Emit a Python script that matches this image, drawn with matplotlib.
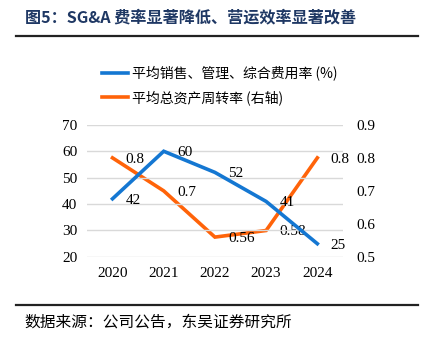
import matplotlib.pyplot as plt
from matplotlib.lines import Line2D

plt.rcParams['font.family'] = ['Liberation Serif', 'Noto Sans CJK SC']

years = ["2020", "2021", "2022", "2023", "2024"]
sga_rate = [42, 60, 52, 41, 25]
turnover = [0.8, 0.7, 0.56, 0.58, 0.8]
sga_labels = ["42", "60", "52", "41", "25"]
turn_labels = ["0.8", "0.7", "0.56", "0.58", "0.8"]

blue = "#1477D2"
orange = "#FF6309"
cjk = ['Noto Sans CJK SC', 'Liberation Serif']

fig = plt.figure(figsize=(4.26, 3.43), dpi=100)
ax = fig.add_axes([0.204, 0.251, 0.601, 0.385])
ax2 = ax.twinx()

x = range(len(years))
l1, = ax.plot(x, sga_rate, color=blue, lw=2.6, solid_joinstyle='miter')
l2, = ax2.plot(x, turnover, color=orange, lw=2.6, solid_joinstyle='miter')

ax.set_ylim(20, 70)
ax.set_yticks([20, 30, 40, 50, 60, 70])
ax2.set_ylim(0.5, 0.9)
ax2.set_yticks([0.5, 0.6, 0.7, 0.8, 0.9])
ax.set_xlim(-0.5, 4.5)
ax.set_xticks(list(x))
ax.set_xticklabels(years)
ax.grid(axis='y', color='#D9D9D9', lw=1)
ax.set_axisbelow(True)
for a in (ax, ax2):
    for s in a.spines.values():
        s.set_visible(False)
    a.tick_params(length=0, labelsize=11)
ax.tick_params(axis='y', pad=7)
ax.tick_params(axis='x', pad=7)
ax2.tick_params(axis='y', pad=10)
ax.set_zorder(ax2.get_zorder() + 1)
ax.patch.set_visible(False)

# data labels, to the right of each point
for i, (v, t) in enumerate(zip(sga_rate, sga_labels)):
    ax.annotate(t, (i, v), xytext=(9.5, -1), textcoords='offset points',
                ha='left', va='center', fontsize=11)
for i, (v, t) in enumerate(zip(turnover, turn_labels)):
    ax2.annotate(t, (i, v), xytext=(9.5, -1), textcoords='offset points',
                 ha='left', va='center', fontsize=11)

fig.legend([l1, l2], ["平均销售、管理、综合费用率 (%)", "平均总资产周转率 (右轴)"],
           loc='upper left', bbox_to_anchor=(0.21, 0.845), frameon=False,
           handlelength=1.9, handletextpad=0.25, labelspacing=0.7,
           prop={'family': cjk, 'size': 10})

fig.text(0.058, 0.948, "图5：SG&A 费率显著降低、营运效率显著改善", fontsize=11.6,
         fontweight='bold', color='#1F3864', va='center', family=cjk)
fig.add_artist(Line2D([0.038, 0.982], [0.895, 0.895], color='#222222', lw=1.6))
fig.add_artist(Line2D([0.038, 0.982], [0.111, 0.111], color='#222222', lw=1.6))
fig.text(0.058, 0.061, "数据来源：公司公告，东吴证券研究所", fontsize=11.3,
         va='center', family=cjk)

fig.savefig("out.png", dpi=100)
